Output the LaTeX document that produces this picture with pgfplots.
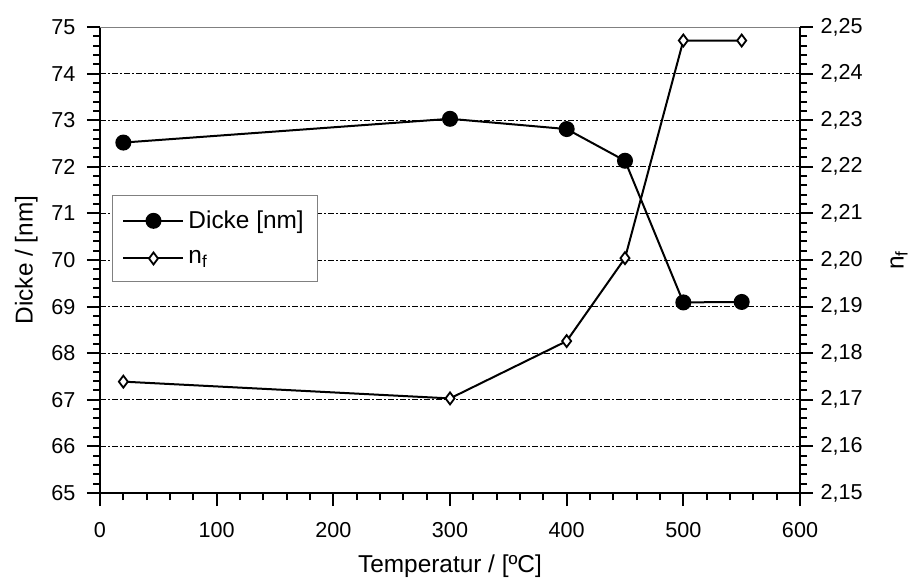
\documentclass[border=0pt]{standalone}
\usepackage{fontspec}
\setmainfont{Liberation Sans}
\usepackage{pgfplots}
\pgfplotsset{compat=1.18}

\pgfplotstableread{
T dicke
20 72.52
300 73.03
400 72.81
450 72.13
500 69.09
550 69.10
}\dicketab

\pgfplotstableread{
T nf
20 2.1739
300 2.1703
400 2.1826
450 2.2004
500 2.2471
550 2.2471
}\nftab

\begin{document}
\fontsize{10.8}{13}\selectfont
\begin{tikzpicture}
\pgfplotsset{
  every axis/.append style={
    scale only axis, width=350pt, height=233pt,
    xmin=0, xmax=600,
    tick align=outside,
    major tick length=6.5pt, minor tick length=3.5pt,
    every tick/.style={black, line width=1pt},
    axis line style={line width=1pt},
    /pgf/number format/assume math mode=true,
    tick label style={font=\fontsize{10.8}{13}\selectfont},
    label style={font=\fontsize{12.2}{14}\selectfont},
  }
}
\begin{axis}[
  name=ax,
  axis x line*=bottom, axis y line*=left,
  ymin=65, ymax=75,
  xtick={0,100,...,600}, minor x tick num=4,
  ytick={65,66,...,75}, minor y tick num=4,
  xticklabel style={yshift=-4.5pt},
  yticklabel style={xshift=-2pt},
  ymajorgrids,
  major grid style={black, line width=0.5pt, dash pattern=on 3pt off 1pt on 1pt off 1pt},
  xlabel={Temperatur / [ºC]},
  xlabel style={yshift=-1pt},
  ylabel={Dicke / [nm]},
  ylabel style={yshift=-0.5pt},
  legend cell align=left,
  legend style={at={(rel axis cs:0.017,0.64)}, anchor=north west,
    draw=gray, line width=0.6pt, inner xsep=5pt, inner ysep=5.5pt,
    row sep=5.5pt, font=\fontsize{12.2}{14}\selectfont},
  legend image code/.code={
    \draw[mark repeat=2, mark phase=2] plot coordinates {(0pt,0pt) (15pt,0pt) (30pt,0pt)};},
]
\draw[gray, line width=1pt] (rel axis cs:0,1) -- (rel axis cs:1,1);
\addplot[black, line width=1pt, mark=*, mark size=3.5pt] table[x=T, y=dicke] {\dicketab};
\addlegendentry{Dicke [nm]}
\addlegendimage{black, line width=1pt, mark=diamond*, mark size=3pt, mark options={fill=white, line width=0.9pt}}
\addlegendentry{n\textsubscript{f}}
\end{axis}
\begin{axis}[
  axis x line=none, axis y line*=right,
  ymin=2.15, ymax=2.25,
  ytick={2.15,2.16,2.17,2.18,2.19,2.20,2.21,2.22,2.23,2.24,2.25},
  minor y tick num=4,
  yticklabel style={/pgf/number format/.cd, use comma, fixed, fixed zerofill, precision=2},
  ylabel={n\textsubscript{f}},
  ylabel style={yshift=-6.5pt},
]
\addplot[black, line width=1pt, mark=diamond*, mark size=3pt, mark options={fill=white, line width=0.9pt}] table[x=T, y=nf] {\nftab};
\end{axis}
\pgfresetboundingbox
\path ([shift={(-50pt,-43.5pt)}]ax.south west) rectangle ([shift={(56.5pt,13.5pt)}]ax.north east);
\end{tikzpicture}
\end{document}
